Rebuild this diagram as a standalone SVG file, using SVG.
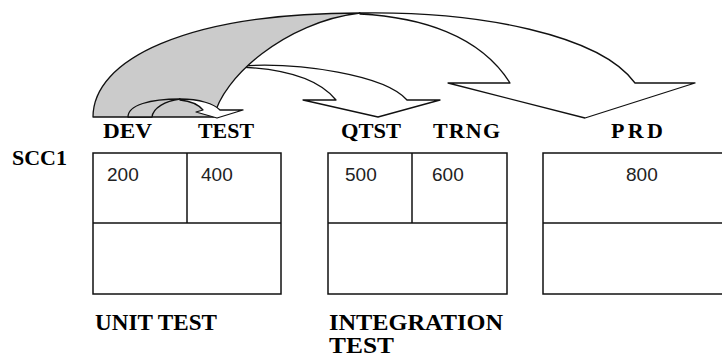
<svg xmlns="http://www.w3.org/2000/svg" width="722" height="358" viewBox="0 0 722 358">
<style>
.box{fill:#fff;stroke:#111;stroke-width:1.5}
.ln{stroke:#111;stroke-width:1.5;fill:none}
.num{font-family:"Liberation Sans",Arial,sans-serif;font-size:19px;fill:#222}
.lab{font-family:"Liberation Serif","Times New Roman",serif;font-weight:bold;font-size:22px;fill:#000}
.big{font-size:23px}
.back{fill:#cbcbcb;stroke:#111;stroke-width:1.3;stroke-linejoin:round}
.front{fill:#fff;stroke:#111;stroke-width:1.3;stroke-linejoin:round}
</style>
<rect width="722" height="358" fill="#fff"/>
<g id="connectors">
  <path id="arrow-qtst" class="front" d="M240,66 C300,62 385,75 407,100 L440,100 L378,117 L303,100 L336,100 C320,80 290,69 240,67 Z"/>
  <path id="arrow-prd-back" class="back" d="M93,117 C93,60 185,13 360,13 C285,22 222,78 214,117 Z"/>
  <path id="arrow-prd-front" class="front" d="M360,13 C480,11 600,35 635,83 L695,83 L585,118 L448,83 L510,83 C480,35 420,17 360,14 Z"/>
  <path id="arrow-test-back" class="back" d="M128,117 C128,105 150,99 180,99 C165,101 153,108 152,117 Z"/>
  <path id="arrow-test-front" class="front" d="M180,99 C200,99 214,104 220,110 L243,110 L217,118 L196,112 L203,110 C198,104 190,101 180,100 Z"/>
</g>
<g id="scc1"><text class="lab" x="12" y="165" font-size="20" textLength="55" lengthAdjust="spacing">SCC1</text></g>
<g id="unit-test">
  <rect class="box" x="93" y="153" width="188" height="141"/>
  <line class="ln" x1="93" y1="223" x2="281" y2="223"/>
  <line class="ln" x1="187" y1="153" x2="187" y2="223"/>
  <text class="lab" x="103" y="138" textLength="49" lengthAdjust="spacingAndGlyphs">DEV</text>
  <text class="lab" x="198" y="138" textLength="56" lengthAdjust="spacingAndGlyphs">TEST</text>
  <text class="num" x="107" y="181">200</text>
  <text class="num" x="201" y="181">400</text>
  <text class="lab big" x="95" y="330" textLength="122" lengthAdjust="spacingAndGlyphs">UNIT TEST</text>
</g>
<g id="integration-test">
  <rect class="box" x="328" y="153" width="179" height="141"/>
  <line class="ln" x1="328" y1="223" x2="507" y2="223"/>
  <line class="ln" x1="412" y1="153" x2="412" y2="223"/>
  <text class="lab" x="341" y="138" textLength="60" lengthAdjust="spacingAndGlyphs">QTST</text>
  <text class="lab" x="433" y="138" textLength="67" lengthAdjust="spacing">TRNG</text>
  <text class="num" x="345" y="181">500</text>
  <text class="num" x="432" y="181">600</text>
  <text class="lab big" x="329" y="330" textLength="174" lengthAdjust="spacingAndGlyphs">INTEGRATION</text>
  <text class="lab big" x="329" y="353" textLength="65" lengthAdjust="spacingAndGlyphs">TEST</text>
</g>
<g id="prd">
  <rect class="box" x="543" y="153" width="200" height="141"/>
  <line class="ln" x1="543" y1="223" x2="743" y2="223"/>
  <text class="lab" x="611" y="138" textLength="52" lengthAdjust="spacing">PRD</text>
  <text class="num" x="626" y="181">800</text>
</g>
</svg>
